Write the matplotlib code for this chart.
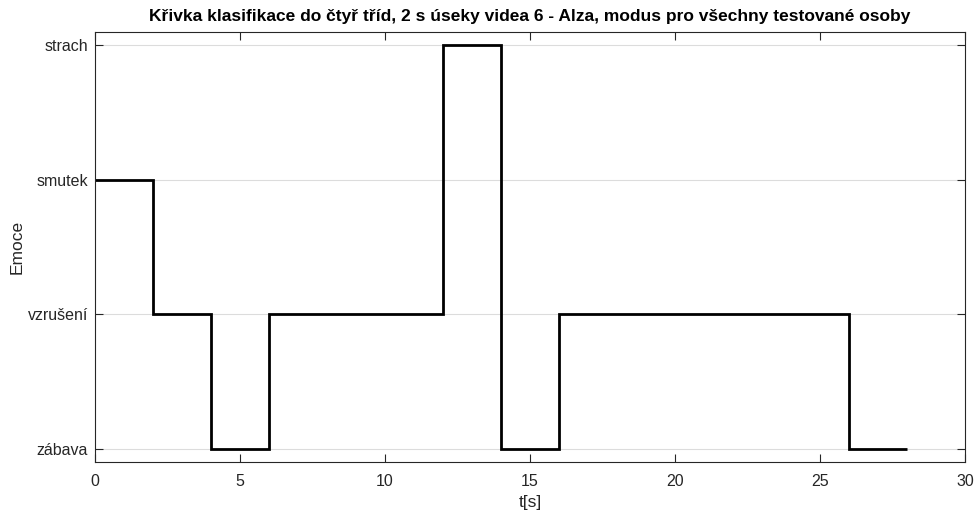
import matplotlib
matplotlib.use('Agg')
import matplotlib.pyplot as plt

# Hranice 2 s úseků a klasifikovaná emoce v každém úseku
hranice = [0, 2, 4, 6, 8, 10, 12, 14, 16, 18, 20, 22, 24, 26, 28]
emoce = ['smutek', 'vzrušení', 'zábava', 'vzrušení', 'vzrušení', 'vzrušení', 'strach',
         'zábava', 'vzrušení', 'vzrušení', 'vzrušení', 'vzrušení', 'vzrušení', 'zábava']
kategorie = ['zábava', 'vzrušení', 'smutek', 'strach']
x_ticks = [0, 5, 10, 15, 20, 25, 30]

plt.rcParams['font.family'] = ['Liberation Sans', 'DejaVu Sans']
barva_os = '#262626'

fig = plt.figure(figsize=(9.77, 5.12), dpi=100)
ax = fig.add_axes([0.0972, 0.0977, 0.8905, 0.8398])

hodnoty = [kategorie.index(e) + 1 for e in emoce]
ax.stairs(hodnoty, hranice, baseline=None, color='black', linewidth=2)

ax.set_xlim(0, 30)
ax.set_ylim(0.9, 4.1)
ax.set_xticks(x_ticks)
ax.set_yticks(range(1, len(kategorie) + 1))
ax.set_yticklabels(kategorie)
ax.yaxis.grid(True, color='#dcdcdc', linewidth=0.8)
ax.set_axisbelow(True)

ax.tick_params(direction='in', top=True, right=True, length=6, width=0.8,
               colors=barva_os, labelsize=11.5)
ax.tick_params(axis='x', pad=9)
ax.tick_params(axis='y', pad=5)
for s in ax.spines.values():
    s.set_color(barva_os)
    s.set_linewidth(0.8)

ax.set_xlabel('t[s]', fontsize=12.5, color=barva_os, labelpad=4)
ax.set_ylabel('Emoce', fontsize=12.5, color=barva_os)
ax.yaxis.set_label_coords(-0.081, 0.5)
ax.set_title('Křivka klasifikace do čtyř tříd, 2 s úseky videa 6 - Alza, modus pro všechny testované osoby',
             fontsize=12.5, fontweight='bold', pad=8)

fig.savefig('out.png', dpi=100)
